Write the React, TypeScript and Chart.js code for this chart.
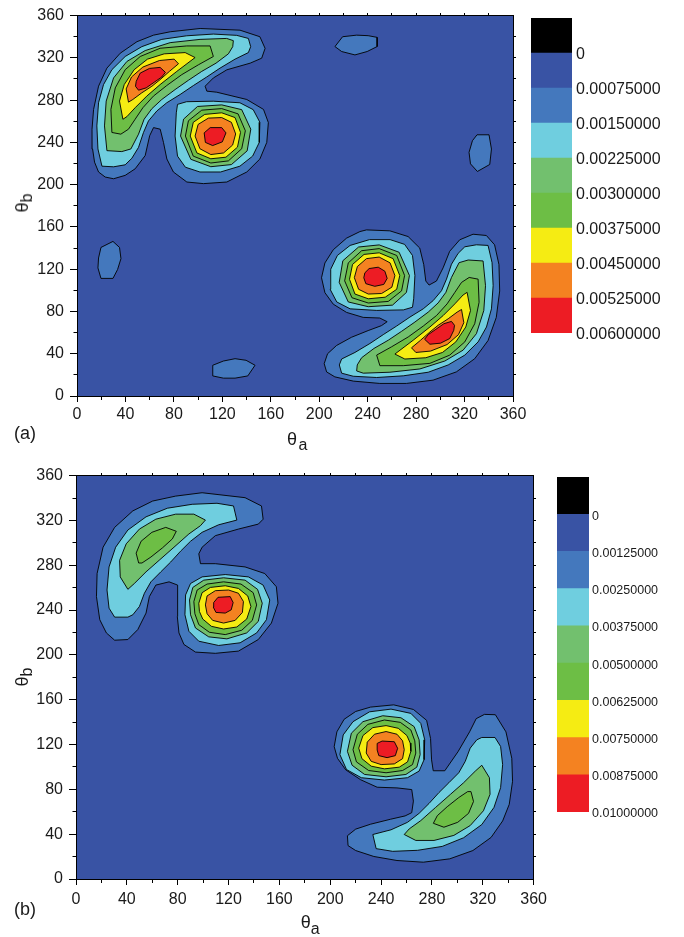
import React, { useEffect, useRef } from 'react';
import { Chart, registerables } from 'chart.js';

Chart.register(...registerables);

const FONT = "'Liberation Sans', Arial, Helvetica, sans-serif";
const TEXT_COLOR = '#1a1a1a';

const AXIS_MIN = 0;
const AXIS_MAX = 360;
const MAJOR_STEP = 40;
const MINOR_TICKS = [20, 60, 100, 140, 180, 220, 260, 300, 340];
const EDGE_TICKS = [20, 40, 60, 80, 100, 120, 140, 160, 180, 200, 220, 240, 260, 280, 300, 320, 340];

// contour band colours, lowest band first
const BAND_COLORS = ['#3953a4', '#4478bd', '#6fcedf', '#72c06e', '#6dbe45', '#f5ec13', '#f48221', '#ed1c24'];
const TOP_BAND_COLOR = '#000000';
const BAND_SPAN = 1;

const LEGEND_A = ['0', '0.00075000', '0.00150000', '0.00225000', '0.00300000', '0.00375000', '0.00450000', '0.00525000', '0.00600000'];
const LEGEND_B = ['0', '0.00125000', '0.00250000', '0.00375000', '0.00500000', '0.00625000', '0.00750000', '0.00875000', '0.01000000'];

// ---------- plot (a) contour polygons [θa, θb] ----------
const A_L1_UL = [[77,344.7],[101.7,347.8],[134.6,346.2],[151,340],[155.3,329],[152.5,319.7],[143,315],[123.7,308.7],[112.6,301],[105.8,293.2],[107.2,288.5],[115.4,287.5],[140.2,280.6],[154,271.2],[158,258.8],[156.7,240],[151,224.3],[140.2,212],[123.7,202.5],[104.4,201],[90.7,202.5],[79.6,212],[74.2,224.3],[71.4,240],[68.7,252.5],[63.2,254],[60,246.3],[56.3,227.5],[48,215],[39.8,208.8],[30.2,205.6],[23.3,207.2],[17.8,212],[14.5,221.3],[12.9,233.7],[12.4,252.5],[13.7,271.2],[17.8,293.2],[24.7,310.3],[35.7,324.4],[49.5,335.3],[63.2,341.5]];
const A_L1_LR = [[239,157.2],[258.3,156.3],[273.4,150.9],[283,140],[286.3,124.4],[288,108.8],[290.7,105],[296.8,108.8],[302.3,121.3],[307.7,136.9],[316,147.8],[327,153.1],[338,151.9],[344.8,143.1],[348.4,124.4],[349,99.4],[346.2,74.4],[339.4,52.5],[328.4,35.3],[313.2,22.8],[294,15],[272,11.9],[250,11.9],[228.1,14.1],[212.9,18.1],[206.1,22.8],[204.1,30.6],[206.9,40],[214.3,47.8],[226.7,55.6],[240.4,61.9],[251.4,66.6],[256.1,70.3],[250,73.8],[236.3,74.4],[222.6,79.1],[211.6,86.9],[204.7,97.8],[201.9,111.9],[204.7,125.9],[211.6,138.4],[222.6,149.4],[233.6,155.6]];
const A_ISLAND_TOP = [[213,330.7],[219.3,340],[230.9,341.5],[240.4,341],[247.8,339.4],[247.8,330.7],[239.6,326],[229.5,322.8],[218.5,326]];
const A_ISLAND_RIGHT = [[330.3,247.2],[340.2,247.2],[342.2,233.7],[340.8,219.1],[330.6,212.5],[324.9,219.7],[323.7,230.6],[326.5,241.6]];
const A_ISLAND_LEFT = [[19.8,140.6],[29.7,146.3],[35.1,140.6],[36.3,130],[33.5,119.7],[29.7,111.3],[19.8,111.3],[17.3,121.2],[17.8,130.6]];
const A_ISLAND_BOTTOM = [[112.1,29.1],[120.9,33.1],[130.5,35.3],[139.6,33.8],[147,29.1],[141,19],[130.5,16.9],[120.9,16.9],[112.1,19]];

const A_L2_ULC = [[20.6,217.5],[17.3,233.8],[16.4,255.6],[17.8,277.5],[21.9,294.7],[28.8,308.8],[39.8,321.3],[53.5,330.6],[70,337.5],[90.6,340.9],[112.6,342.5],[131.9,341.3],[141.5,338.4],[143.4,330.6],[141.5,325],[130.5,318.8],[118.1,310.3],[107.1,301.9],[96.1,293.8],[85.1,285.3],[74.1,277.5],[65.9,269.7],[59,260.3],[54.9,249.4],[50.8,235.3],[45.3,225],[39.8,218.8],[30.2,216.9]];
const A_L3_ULC = [[24.7,232.2],[22.7,255.6],[24.1,279.1],[30.2,301],[41.2,316.6],[56.3,326.9],[76.9,334.4],[101.6,337.5],[123.6,338.4],[129.1,336.3],[128.6,330.6],[125,323.8],[114.8,315],[103,307.2],[92,298.8],[81,290],[70,280.6],[61.8,271.9],[55.4,261.9],[50.8,247.8],[44.5,233.8],[37,231.3]];
const A_L4_ULC = [[28.8,249.4],[28,271.3],[31.6,291.6],[39.8,308.8],[52.2,321.3],[68.6,329.1],[90.6,331.3],[109.9,331.3],[112.6,321.3],[100.2,313.4],[86.5,304.1],[74.1,293.8],[63.1,283.8],[54.4,272.8],[48,261.9],[42.5,252.5],[36.2,247.8]];
const A_L5_ULC = [[37.9,261.9],[35.1,279.1],[39,294.7],[47.2,308.8],[58.2,318.8],[72,323.8],[89.3,325],[97.5,320.3],[82.4,307.2],[68.6,294.7],[57.6,283.8],[48,272.8],[41.2,264.4]];
const A_L6_ULC = [[42.5,278.1],[40.6,290.6],[45,301.9],[54.4,311.3],[68.1,317.5],[80.2,318.8],[83.8,314.4],[76.3,307.2],[68.6,299.4],[61.8,293.1],[53.5,286.9],[46.1,280.6]];
const A_L7_ULC = [[48.3,293.1],[48.9,297.8],[52.2,305.6],[59.8,310],[68.6,311],[73,306.3],[70,301.9],[63.7,296.9],[57.1,291.6],[50.8,289.4]];

const A_L2_ULB = [[82,268],[83,276],[90.5,278.5],[112.5,279],[134.5,277.5],[145.5,271],[151,259],[150.5,240],[145,227],[134.5,217.5],[118.5,212],[101.5,212],[89.5,216.5],[83,227],[81,246]];
const A_L3_ULB = [[85.5,246],[88,262],[99.5,274],[119.5,275.5],[136,271],[143.5,252.5],[140.5,232],[127.5,219],[110.5,217],[94,224]];
const A_L4_ULB = [[89.5,246],[92,260.5],[103,270.5],[119.5,272],[133,267],[139,251],[136,234],[125,222.5],[110.5,220.5],[96,227]];
const A_L5_ULB = [[93.5,246],[96,259],[105.5,266.5],[119.5,268],[130.5,263.5],[135,249.5],[132.5,235.5],[123,226],[110.5,224.5],[99,230]];
const A_L6_ULB = [[97.5,246],[100,257],[108.5,263],[119.5,263.5],[127.5,259],[131,248],[128.5,237.5],[121,230],[110.5,228.5],[101.5,234]];
const A_L7_ULB = [[105,249],[110,254],[119.5,254],[123,249],[120,240.5],[112,237],[106,240]];

const A_L2_LRB = [[278,92],[277,84],[269.5,81.5],[247.5,81],[225.5,82.5],[214.5,89],[209,101],[209.5,120],[215,133],[225.5,142.5],[241.5,148],[258.5,148],[270.5,143.5],[277,133],[279,114]];
const A_L3_LRB = [[274.5,114],[272,98],[260.5,86],[240.5,84.5],[224,89],[216.5,107.5],[219.5,128],[232.5,141],[249.5,143],[266,136]];
const A_L4_LRB = [[270.5,114],[268,99.5],[257,89.5],[240.5,88],[227,93],[221,109],[224,126],[235,137.5],[249.5,139.5],[264,133]];
const A_L5_LRB = [[266.5,114],[264,101],[254.5,93.5],[240.5,92],[229.5,96.5],[225,110.5],[227.5,124.5],[237,134],[249.5,135.5],[261,130]];
const A_L6_LRB = [[262.5,114],[260,103],[251.5,97],[240.5,96.5],[232.5,101],[229,112],[231.5,122.5],[239,130],[249.5,131.5],[258.5,126]];
const A_L7_LRB = [[237.7,116.6],[241.2,120.6],[248.7,121.9],[254.2,118.1],[256.1,111.3],[253.3,105.6],[245.9,103.8],[238.5,106.3],[236.8,111.9]];

const A_L2_LRC = [[339.4,142.5],[342.7,126.2],[343.6,104.4],[342.2,82.5],[338.1,65.3],[331.2,51.2],[320.2,38.7],[306.5,29.4],[290,22.5],[269.4,19.1],[247.4,17.5],[228.1,18.7],[218.5,21.6],[216.6,29.4],[218.5,35],[229.5,41.2],[241.9,49.7],[252.9,58.1],[263.9,66.2],[274.9,74.7],[285.9,82.5],[294.1,90.3],[301,99.7],[305.1,110.6],[309.2,124.7],[314.7,135],[320.2,141.2],[329.8,143.1]];
const A_L3_LRC = [[335.3,127.8],[337.3,104.4],[335.9,80.9],[329.8,59],[318.8,43.4],[303.7,33.1],[283.1,25.6],[258.4,22.5],[236.4,21.6],[230.9,23.7],[231.4,29.4],[235,36.2],[245.2,45],[257,52.8],[268,61.2],[279,70],[290,79.4],[298.2,88.1],[304.6,98.1],[309.2,112.2],[315.5,126.2],[323,128.7]];
const A_L4_LRC = [[331.2,110.6],[332,88.7],[328.4,68.4],[320.2,51.2],[307.8,38.7],[291.4,30.9],[269.4,28.7],[250.1,28.7],[247.4,38.7],[259.8,46.6],[273.5,55.9],[285.9,66.2],[296.9,76.2],[305.6,87.2],[312,98.1],[317.5,107.5],[323.8,112.2]];
const A_L5_LRC = [[322.1,98.1],[324.9,80.9],[321,65.3],[312.8,51.2],[301.8,41.2],[288,36.2],[270.7,35],[262.5,39.7],[277.6,52.8],[291.4,65.3],[302.4,76.2],[312,87.2],[318.8,95.6]];
const A_L6_LRC = [[317.5,81.9],[319.4,69.4],[315,58.1],[305.6,48.7],[291.9,42.5],[279.8,41.2],[276.2,45.6],[283.7,52.8],[291.4,60.6],[298.2,66.9],[306.5,73.1],[313.9,79.4]];
const A_L7_LRC = [[311.7,66.9],[311.1,62.2],[307.8,54.4],[300.2,50],[291.4,49],[287,53.7],[290,58.1],[296.3,63.1],[302.9,68.4],[309.2,70.6]];

// ---------- plot (b) contour polygons [θa, θb] ----------
const B_L1_UL = [[60.3,337.3],[78.4,341.7],[99.2,344.7],[133,340.3],[145.9,332.9],[147.2,321.1],[143.4,316.7],[127.8,312.3],[109.6,306.4],[99.2,296.1],[96.6,290.2],[97.9,281.4],[109.6,281.4],[133,278.5],[148.5,272.6],[157.6,260.8],[158.9,246.1],[153.7,228.4],[143.4,213.7],[127.8,203.4],[109.6,201.4],[94,202.5],[84.9,209.3],[81,219.6],[79.7,234.3],[80.2,252],[79.7,262.3],[73.2,265.2],[62.8,262.3],[57.7,252],[55.1,237.3],[48.6,222.6],[40.8,213.7],[30.4,213.1],[23.9,219.6],[18.7,231.4],[16.1,252],[16.6,272.6],[21.3,296.1],[30.4,313.8],[44.7,328.5]];
const B_L1_LR = [[231.7,153.4],[249.9,155.4],[265.4,151.3],[275.8,141.6],[278.9,125.4],[279.7,106.3],[281,96.6],[290.1,96.6],[300.5,113.6],[309.6,131.3],[314.8,143.1],[321.3,146.9],[329.9,146.6],[338.2,131.3],[342.8,107.7],[343.4,87.2],[340.8,66.6],[335.6,51.8],[326.5,37.1],[312.2,25.4],[294,18],[273.2,15],[252.5,16.5],[234.3,20.1],[220,25.4],[214,29.8],[213.5,38.6],[220,44.5],[231.7,48.9],[247.3,53.3],[258.9,56.3],[264.1,59.2],[265.4,69.5],[264.1,79.8],[252.5,81.3],[236.9,81.9],[223.9,88.6],[212.2,97.4],[205.7,107.7],[203.1,118.1],[205.2,131.3],[210.9,142.5],[220,149.5]];

const B_L2_ULC = [[30.4,233.7],[26,241.7],[24.4,257.9],[26,278.5],[31.2,296.1],[40.8,311.4],[55.1,323.2],[71.9,330.9],[91.4,334.4],[110.9,335.3],[123.9,332.9],[126.5,320.3],[112.2,316.1],[99.2,309.4],[90.1,301.4],[82.3,292.6],[74.5,282.9],[66.7,274.1],[58.9,265.2],[53.8,255],[49.9,243.2],[44.7,235.8],[40.8,233.7]];
const B_L3_ULC = [[40.8,258.5],[34.8,269.6],[34.3,284.4],[39.5,299.1],[49.9,312.3],[62.8,321.1],[78.4,325.6],[92.7,325.6],[101.8,320.3],[97.9,315.3],[88.8,307.9],[77.1,296.1],[65.4,284.4],[55.1,274.1],[45.9,263.7]];
const B_L4_ULC = [[49.3,282],[47.3,290.8],[51.2,301.4],[59.7,309.4],[70.6,313.8],[78.9,310.3],[75.8,303.5],[68,295.5],[58.9,287.3],[51.9,282]];

const B_L2_ULB = [[86.2,253.5],[90.1,263.7],[99.2,269.6],[117.4,271.7],[135.6,269.6],[147.2,262.3],[152.4,249],[149.8,231.4],[142.1,219.6],[129.1,210.8],[112.2,208.4],[96.6,212.2],[88.8,221.1],[85.7,235.8]];
const B_L3_ULB = [[89.3,249],[91.9,260.2],[100.5,266.7],[116.1,268.8],[133,266.7],[142.8,258.5],[146.5,246.1],[143.4,229.9],[134.3,219.6],[118.7,214.3],[104.4,216.1],[94,224],[90.1,235.8]];
const B_L4_ULB = [[92.7,247.6],[95.3,257.9],[103.1,263.2],[116.1,265.2],[129.8,263.2],[139.4,255.5],[142.1,244.6],[138.7,230.8],[130.4,222],[117.4,218.1],[104.9,220.2],[96.6,227],[93.5,236.7]];
const B_L5_ULB = [[96.6,246.1],[99.2,255.5],[105.7,260.2],[117.4,261.7],[127.8,259.3],[135.1,252.6],[137.6,243.2],[134.3,232],[126.5,224.9],[116.1,223.1],[106.5,225.5],[99.7,232],[97.1,238.7]];
const B_L6_ULB = [[101.8,244.6],[103.1,252.6],[109.6,257.3],[120,257.9],[127.8,255],[131.7,247.6],[130.9,237.9],[125.2,230.8],[116.1,228.4],[107.5,230.8],[103.1,236.7]];
const B_L7_ULB = [[108.3,246.7],[111.7,251.4],[121.3,252],[123.6,246.7],[122.1,240.2],[117.4,237.3],[110.1,237.9],[108,242.6]];

const B_L2_LRB = [[273.8,106.5],[269.9,96.3],[260.8,90.4],[242.6,88.3],[224.4,90.4],[212.8,97.7],[207.6,111],[210.2,128.6],[217.9,140.4],[230.9,149.2],[247.8,151.6],[263.4,147.8],[271.2,138.9],[274.3,124.2]];
const B_L3_LRB = [[270.7,111],[268.1,99.8],[259.5,93.3],[243.9,91.2],[227,93.3],[217.2,101.5],[213.5,113.9],[216.6,130.1],[225.7,140.4],[241.3,145.7],[255.6,143.9],[266,136],[269.9,124.2]];
const B_L4_LRB = [[267.3,112.4],[264.7,102.1],[256.9,96.8],[243.9,94.8],[230.2,96.8],[220.6,104.5],[217.9,115.4],[221.3,129.2],[229.6,138],[242.6,141.9],[255.1,139.8],[263.4,133],[266.5,123.3]];
const B_L5_LRB = [[263.4,113.9],[260.8,104.5],[254.3,99.8],[242.6,98.3],[232.2,100.7],[224.9,107.4],[222.4,116.8],[225.7,128],[233.5,135.1],[243.9,136.9],[253.5,134.5],[260.3,128],[262.9,121.3]];
const B_L6_LRB = [[258.2,115.4],[256.9,107.4],[250.4,102.7],[240,102.1],[232.2,105],[228.3,112.4],[229.1,122.1],[234.8,129.2],[243.9,131.6],[252.5,129.2],[256.9,123.3]];
const B_L7_LRB = [[236.9,121],[240.8,123.1],[250.4,122.5],[253,116.6],[251.2,110.1],[244.7,108.3],[238.2,110.1],[236.9,115.1]];

const B_L2_LRC = [[329.6,126.3],[334,118.3],[335.6,102.1],[334,81.5],[328.8,63.9],[319.2,48.6],[304.9,36.8],[288.1,29.1],[268.6,25.6],[249.1,24.7],[236.1,27.1],[233.5,39.7],[247.8,43.9],[260.8,50.6],[269.9,58.6],[277.7,67.4],[285.5,77.1],[293.3,85.9],[301.1,94.8],[306.2,105],[310.1,116.8],[315.3,124.2],[319.2,126.3]];
const B_L3_LRC = [[319.2,101.5],[325.2,90.4],[325.7,75.6],[320.5,60.9],[310.1,47.7],[297.2,38.9],[281.6,34.4],[267.3,34.4],[258.2,39.7],[262.1,44.7],[271.2,52.1],[282.9,63.9],[294.6,75.6],[304.9,85.9],[314.1,96.3]];
const B_L4_LRC = [[310.7,78],[312.7,69.2],[308.8,58.6],[300.3,50.6],[289.4,46.2],[281.1,49.7],[284.2,56.5],[292,64.5],[301.1,72.7],[308.1,78]];

const PLOT_A = [
  [1, A_L1_UL], [1, A_L1_LR], [1, A_ISLAND_TOP], [1, A_ISLAND_RIGHT], [1, A_ISLAND_LEFT], [1, A_ISLAND_BOTTOM],
  [2, A_L2_ULC], [2, A_L2_ULB], [2, A_L2_LRB], [2, A_L2_LRC],
  [3, A_L3_ULC], [3, A_L3_ULB], [3, A_L3_LRB], [3, A_L3_LRC],
  [4, A_L4_ULC], [4, A_L4_ULB], [4, A_L4_LRB], [4, A_L4_LRC],
  [5, A_L5_ULC], [5, A_L5_ULB], [5, A_L5_LRB], [5, A_L5_LRC],
  [6, A_L6_ULC], [6, A_L6_ULB], [6, A_L6_LRB], [6, A_L6_LRC],
  [7, A_L7_ULC], [7, A_L7_ULB], [7, A_L7_LRB], [7, A_L7_LRC],
];
const PLOT_B = [
  [1, B_L1_UL], [1, B_L1_LR],
  [2, B_L2_ULC], [2, B_L2_ULB], [2, B_L2_LRB], [2, B_L2_LRC],
  [3, B_L3_ULC], [3, B_L3_ULB], [3, B_L3_LRB], [3, B_L3_LRC],
  [4, B_L4_ULC], [4, B_L4_ULB], [4, B_L4_LRB], [4, B_L4_LRC],
  [5, B_L5_ULB], [5, B_L5_LRB],
  [6, B_L6_ULB], [6, B_L6_LRB],
  [7, B_L7_ULB], [7, B_L7_LRB],
];

const contourPlugin = {
  id: 'contourPlugin',
  beforeDatasetsDraw(chart: any) {
    const { ctx, chartArea: a } = chart;
    ctx.save();
    ctx.fillStyle = BAND_COLORS[0];
    ctx.fillRect(a.left, a.top, a.right - a.left, a.bottom - a.top);
    ctx.restore();
  },
  beforeDatasetDraw(chart: any, args: any) {
    const pts = args.meta.data;
    if (!pts || !pts.length) return;
    const ds: any = chart.data.datasets[args.index];
    const { ctx, chartArea: a } = chart;
    ctx.save();
    ctx.beginPath();
    ctx.rect(a.left, a.top, a.right - a.left, a.bottom - a.top);
    ctx.clip();
    ctx.beginPath();
    pts.forEach((p: any, i: number) => (i ? ctx.lineTo(p.x, p.y) : ctx.moveTo(p.x, p.y)));
    ctx.closePath();
    ctx.fillStyle = ds.fillColor;
    ctx.fill();
    ctx.restore();
  },
  afterDatasetsDraw(chart: any) {
    const { ctx, chartArea: a, scales } = chart;
    const al = (v: number) => Math.round(v - 0.5) + 0.5;
    const L = al(a.left), R = al(a.right), T = al(a.top), B = al(a.bottom);
    ctx.save();
    ctx.strokeStyle = '#000';
    ctx.lineWidth = 1;
    ctx.strokeRect(L, T, R - L, B - T);
    ctx.beginPath();
    MINOR_TICKS.forEach((v) => {
      const x = al(scales.x.getPixelForValue(v));
      ctx.moveTo(x, B);
      ctx.lineTo(x, B + 3.5);
      const y = al(scales.y.getPixelForValue(v));
      ctx.moveTo(L, y);
      ctx.lineTo(L - 4, y);
    });
    EDGE_TICKS.forEach((v) => {
      const x = al(scales.x.getPixelForValue(v));
      ctx.moveTo(x, T);
      ctx.lineTo(x, T - 2.5);
      const y = al(scales.y.getPixelForValue(v));
      ctx.moveTo(R, y);
      ctx.lineTo(R + 2.5, y);
    });
    ctx.stroke();
    ctx.restore();
  },
};

function ContourPlot(props: any) {
  const { left, top, width, height, polys, padTop, padRight, yWidth, xHeight, xPad } = props;
  const ref = useRef<HTMLCanvasElement>(null);
  useEffect(() => {
    if (!ref.current) return;
    const tickFont = { family: FONT, size: 16 };
    const chart = new Chart(ref.current, {
      type: 'scatter',
      data: {
        datasets: polys.map(([lvl, pts]: any) => ({
          data: [...pts, pts[0]].map(([x, y]: number[]) => ({ x, y })),
          showLine: true,
          borderColor: '#000',
          borderWidth: 0.9,
          pointRadius: 0,
          pointHoverRadius: 0,
          fill: false,
          tension: 0,
          backgroundColor: BAND_COLORS[lvl],
          fillColor: BAND_COLORS[lvl],
          order: 100 - lvl * 10,
        })),
      },
      options: {
        responsive: false,
        animation: false,
        devicePixelRatio: 1,
        events: [],
        layout: { padding: { top: padTop, right: padRight, left: 0, bottom: 0 } },
        plugins: { legend: { display: false }, tooltip: { enabled: false } },
        scales: {
          x: {
            type: 'linear',
            min: AXIS_MIN,
            max: AXIS_MAX,
            ticks: { stepSize: MAJOR_STEP, font: tickFont, color: TEXT_COLOR, padding: xPad, maxRotation: 0, autoSkip: false },
            grid: { drawOnChartArea: false, tickLength: 6, color: '#000', lineWidth: 1 },
            border: { display: false },
            afterFit: (s: any) => { s.height = xHeight; },
          },
          y: {
            type: 'linear',
            min: AXIS_MIN,
            max: AXIS_MAX,
            ticks: { stepSize: MAJOR_STEP, font: tickFont, color: TEXT_COLOR, padding: 6, autoSkip: false },
            grid: { drawOnChartArea: false, tickLength: 7, color: '#000', lineWidth: 1 },
            border: { display: false },
            afterFit: (s: any) => { s.width = yWidth; },
          },
        },
      } as any,
      plugins: [contourPlugin],
    });
    return () => chart.destroy();
  }, []);
  return <canvas ref={ref} width={width} height={height} style={{ position: 'absolute', left, top }} />;
}

function ColorBar(props: any) {
  const { left, top, width, height, barWidth, padTop, padBottom, labels, fontSize, labelPad } = props;
  const ref = useRef<HTMLCanvasElement>(null);
  useEffect(() => {
    if (!ref.current) return;
    const colors = [...BAND_COLORS].reverse().concat([TOP_BAND_COLOR]);
    const chart = new Chart(ref.current, {
      type: 'bar',
      data: {
        labels: [''],
        datasets: colors.map((c) => ({
          data: [BAND_SPAN],
          backgroundColor: c,
          borderWidth: 0,
          barPercentage: 1,
          categoryPercentage: 1,
        })),
      },
      options: {
        responsive: false,
        animation: false,
        devicePixelRatio: 1,
        events: [],
        layout: { padding: { top: padTop, bottom: padBottom, left: 0, right: 0 } },
        plugins: { legend: { display: false }, tooltip: { enabled: false } },
        scales: {
          x: { display: false, stacked: true },
          y: {
            stacked: true,
            position: 'right',
            min: 0,
            max: colors.length,
            ticks: {
              stepSize: 1,
              autoSkip: false,
              padding: labelPad,
              labelOffset: 2,
              color: TEXT_COLOR,
              font: { family: FONT, size: fontSize },
              callback: (v: any) => (v <= labels.length - 1 ? labels[labels.length - 1 - v] : ''),
            },
            grid: { display: false, drawTicks: false },
            border: { display: false },
            afterFit: (s: any) => { s.width = width - barWidth; },
          },
        },
      } as any,
    });
    return () => chart.destroy();
  }, []);
  return <canvas ref={ref} width={width} height={height} style={{ position: 'absolute', left, top }} />;
}

const txt = (extra: any) => ({
  position: 'absolute' as const,
  fontFamily: FONT,
  color: TEXT_COLOR,
  lineHeight: 1,
  whiteSpace: 'nowrap' as const,
  ...extra,
});

function YTitle({ cx, cy }: any) {
  return (
    <div style={txt({ left: cx, top: cy, transform: 'translate(-50%, -50%) rotate(-90deg)', fontSize: 18 })}>
      <span>θ</span>
      <span style={{ fontSize: 16, position: 'relative', top: 4 }}>b</span>
    </div>
  );
}

export default function App() {
  return (
    <div style={{ position: 'absolute', left: 0, top: 0, width: 684, height: 937, background: '#fff' }}>
      <ContourPlot left={0} top={0} width={530} height={460} polys={PLOT_A} padTop={12} padRight={17} yWidth={77} xHeight={64} xPad={3} />
      <ColorBar left={531} top={0} width={153} height={350} barWidth={41} padTop={18} padBottom={17} labels={LEGEND_A} fontSize={16} labelPad={4} />
      <ContourPlot left={0} top={460} width={552} height={477} polys={PLOT_B} padTop={11} padRight={14} yWidth={76} xHeight={58} xPad={5} />
      <ColorBar left={557} top={465} width={127} height={360} barWidth={32} padTop={12} padBottom={13} labels={LEGEND_B} fontSize={12.5} labelPad={3} />

      <span style={txt({ left: 287, top: 430, fontSize: 18 })}>θ</span>
      <span style={txt({ left: 298.5, top: 436.5, fontSize: 16 })}>a</span>
      <span style={txt({ left: 300.7, top: 913, fontSize: 18 })}>θ</span>
      <span style={txt({ left: 310.7, top: 920.5, fontSize: 16 })}>a</span>
      <YTitle cx={22} cy={203} />
      <YTitle cx={22} cy={677} />
      <span style={txt({ left: 14, top: 424, fontSize: 18 })}>(a)</span>
      <span style={txt({ left: 14, top: 900, fontSize: 18 })}>(b)</span>
    </div>
  );
}
